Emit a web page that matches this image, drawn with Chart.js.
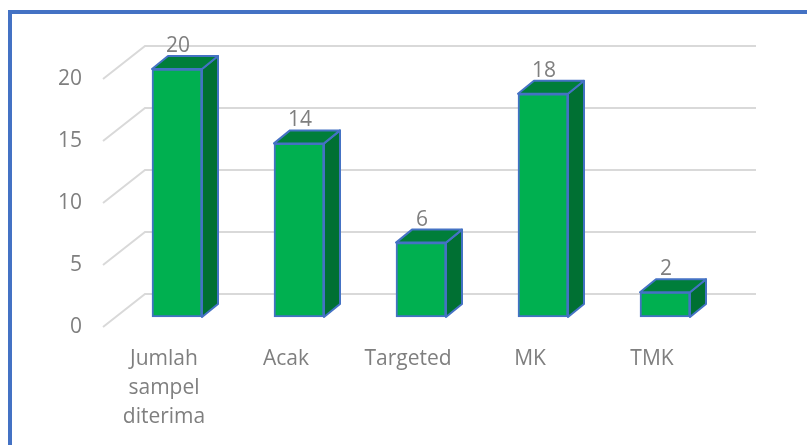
<!DOCTYPE html>
<html>
<head>
<meta charset="utf-8">
<script src="https://cdn.jsdelivr.net/npm/chart.js@4"></script>
<style>
  html, body { margin: 0; padding: 0; background: #fff; }
  #wrap { position: relative; width: 807px; height: 445px; overflow: hidden; }
  #frame { position: absolute; left: 8px; top: 10px; width: 799px; height: 435px; border-top: 4px solid #4472c4; border-left: 4px solid #4472c4; box-sizing: border-box; pointer-events: none; }
  canvas { display: block; }
</style>
</head>
<body>
<div id="wrap">
  <canvas id="chart" width="807" height="445"></canvas>
  <div id="frame"></div>
</div>
<script>
var categories = [["Jumlah", "sampel", "diterima"], "Acak", "Targeted", "MK", "TMK"];
var sampleCounts = [20, 14, 6, 18, 2];
var yTicks = [0, 5, 10, 15, 20];

var fontName = "'Open Sans', sans-serif";
var textColor = "#7f7f7f";

// floor depth of the fake 3d box, and how far the bars sit inside it
var floorDx = 42, floorDy = 33;
var barShiftX = 13, barShiftY = 10;
var barDepthX = 16, barDepthY = 13;

var box3d = {
    id: "box3d",
    beforeDatasetsDraw: function(chart) {
        var ctx = chart.ctx, y = chart.scales.y, area = chart.chartArea;
        // walls: slanted line on the left then the long line at the back
        ctx.save();
        ctx.strokeStyle = "#d9d9d9";
        ctx.lineWidth = 2;
        yTicks.forEach(function(t) {
            var py = y.getPixelForValue(t);
            ctx.beginPath();
            ctx.moveTo(area.left, py);
            ctx.lineTo(area.left + floorDx, py - floorDy);
            ctx.lineTo(area.right + floorDx + 1, py - floorDy);
            ctx.stroke();
        });
        ctx.restore();
        // bars stand a bit inside the floor
        ctx.save();
        ctx.translate(barShiftX, -barShiftY);
    },
    afterDatasetsDraw: function(chart) {
        var ctx = chart.ctx;
        chart.getDatasetMeta(0).data.forEach(function(bar, i) {
            var l = bar.x - bar.width / 2, r = bar.x + bar.width / 2, t = bar.y, b = bar.base;
            ctx.lineJoin = "round";
            ctx.strokeStyle = "#4472c4";
            ctx.lineWidth = 2;
            // side
            ctx.fillStyle = "#007033";
            ctx.beginPath();
            ctx.moveTo(r, t);
            ctx.lineTo(r + barDepthX, t - barDepthY);
            ctx.lineTo(r + barDepthX, b - barDepthY);
            ctx.lineTo(r, b);
            ctx.closePath();
            ctx.fill();
            ctx.stroke();
            // top
            ctx.fillStyle = "#007e3a";
            ctx.beginPath();
            ctx.moveTo(l, t);
            ctx.lineTo(l + barDepthX, t - barDepthY);
            ctx.lineTo(r + barDepthX, t - barDepthY);
            ctx.lineTo(r, t);
            ctx.closePath();
            ctx.fill();
            ctx.stroke();
            // value above the bar
            ctx.fillStyle = textColor;
            ctx.font = "21px " + fontName;
            ctx.textAlign = "center";
            ctx.textBaseline = "middle";
            ctx.fillText(String(sampleCounts[i]), bar.x + 1, t - 23);
        });
        ctx.restore();
    }
};

var ctx = document.getElementById("chart").getContext("2d");
var sampleChart = new Chart(ctx, {
    type: "bar",
    plugins: [box3d],
    data: {
        labels: categories,
        datasets: [{
            data: sampleCounts,
            backgroundColor: "#00b050",
            borderColor: "#4472c4",
            borderWidth: 2,
            borderSkipped: false,
            barThickness: 50,
            clip: false
        }]
    },
    options: {
        responsive: false,
        animation: false,
        layout: { padding: { top: 79, right: 94, left: 0, bottom: 0 } },
        plugins: { legend: { display: false }, tooltip: { enabled: false } },
        scales: {
            x: {
                grid: { display: false },
                border: { display: false },
                afterFit: function(scale) { scale.height = 118; },
                ticks: {
                    color: textColor,
                    padding: 9,
                    maxRotation: 0,
                    autoSkip: false,
                    font: { family: fontName, size: 21, lineHeight: 1.4 }
                }
            },
            y: {
                min: 0,
                max: 20,
                grid: { display: false },
                border: { display: false },
                afterFit: function(scale) { scale.width = 103; },
                afterBuildTicks: function(scale) {
                    scale.ticks = yTicks.map(function(v) { return { value: v }; });
                },
                ticks: {
                    color: textColor,
                    padding: 13,
                    font: { family: fontName, size: 21 }
                }
            }
        }
    }
});
</script>
</body>
</html>
